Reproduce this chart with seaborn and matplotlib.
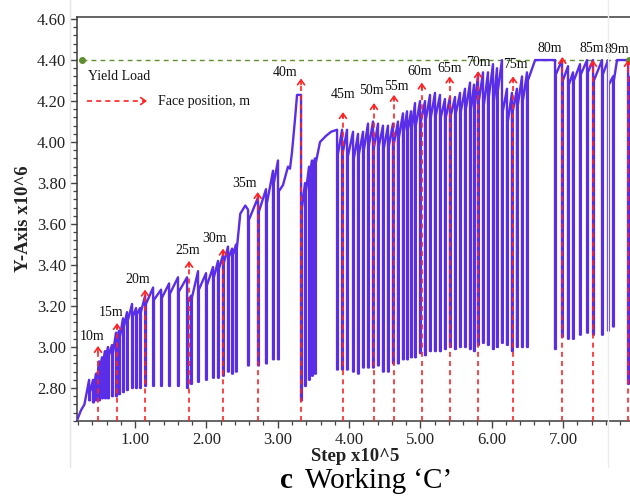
import numpy as np
import pandas as pd
import matplotlib
matplotlib.use("Agg")
import matplotlib.pyplot as plt
from matplotlib.lines import Line2D
from matplotlib.ticker import MultipleLocator, FormatStrFormatter
import seaborn as sns

# ---- load trace: one entry per loading cycle -------------------------------
# step (x10^5), load reached before the drop, trough of the drop, load the
# trace recovers to after the drop (None = plain vertex, no drop)
cycle_step = [0.190, 0.240, 0.290, 0.356, 0.411, 0.453, 0.495, 0.537, 0.579, 0.621,
              0.677, 0.733, 0.775, 0.831, 0.887, 0.958, 1.014, 1.070, 1.141, 1.253,
              1.365, 1.477, 1.602, 1.729, 1.785, 1.883, 1.995, 2.093, 2.163, 2.233,
              2.303, 2.360, 2.415, 2.475, 2.545, 2.584, 2.724, 2.836, 2.934, 3.004,
              3.074, 3.144, 3.172, 3.200, 3.242, 3.271, 3.327, 3.383, 3.439, 3.481,
              3.523, 3.593, 3.677, 3.748, 3.832, 3.902, 3.972, 4.056, 4.126, 4.196,
              4.266, 4.336, 4.406, 4.476, 4.546, 4.616, 4.686, 4.756, 4.813, 4.869,
              4.925, 4.995, 5.065, 5.135, 5.205, 5.275, 5.345, 5.415, 5.486, 5.556,
              5.626, 5.696, 5.752, 5.808, 5.878, 5.948, 6.018, 6.074, 6.144, 6.214,
              6.284, 6.354, 6.425, 6.495, 6.609, 6.888, 6.986, 7.070, 7.140, 7.238,
              7.337, 7.421, 7.547, 7.631, 7.701, 7.757, 7.912, 8.050]
cycle_peak = [2.645, 2.690, 2.720, 2.840, 2.840, 2.870, 2.930, 2.950, 2.980, 3.000,
              3.010, 3.070, 3.080, 3.140, 3.170, 3.210, 3.190, 3.190, 3.250, 3.290,
              3.280, 3.310, 3.340, 3.340, 3.250, 3.370, 3.360, 3.390, 3.420, 3.450,
              3.490, 3.480, 3.500, 3.650, 3.690, 3.670, 3.730, 3.770, 3.860, 3.910,
              3.790, 3.880, 3.870, 3.950, 4.110, 4.230, 4.230, 3.800, 3.880, 3.910,
              3.920, 4.000, 4.030, 4.050, 4.060, 4.060, 4.060, 4.050, 4.040, 4.050,
              4.090, 4.100, 4.090, 4.080, 4.080, 4.090, 4.100, 4.140, 4.150, 4.150,
              4.190, 4.200, 4.200, 4.230, 4.240, 4.230, 4.210, 4.220, 4.220, 4.240,
              4.260, 4.290, 4.280, 4.330, 4.340, 4.340, 4.380, 4.360, 4.400, 4.260,
              4.240, 4.260, 4.320, 4.340, 4.400, 4.400, 4.400, 4.370, 4.340, 4.380,
              4.400, 4.400, 4.400, 4.400, 4.320, 4.400, 4.400, 4.400]
cycle_trough = [None, None, None, 2.74, 2.73, 2.74, 2.74, 2.75, 2.75, 2.75,
                2.76, 2.76, 2.77, 2.78, 2.79, 2.80, 2.80, 2.80, 2.81, 2.81,
                2.81, 2.81, 2.81, 2.80, 2.82, 2.83, 2.84, 2.85, 2.85, 2.86,
                2.88, 2.87, 2.88, None, None, 2.91, 2.91, 2.92, 2.94, 2.94,
                None, None, None, None, None, None, 2.74, 2.81, 2.84, 2.86,
                2.87, None, None, None, 2.89, 2.89, 2.89, 2.88, 2.87, 2.90,
                2.90, 2.90, 2.91, 2.88, 2.88, 2.92, 2.92, 2.94, 2.94, 2.95,
                2.95, 2.97, 2.96, 2.98, 2.98, 2.98, 2.99, 3.00, 2.99, 3.00,
                3.00, 2.99, 2.98, 3.01, 3.02, 3.01, 2.99, 3.00, 3.02, 3.01,
                2.98, 3.00, 3.00, 3.00, None, 2.99, 3.05, 3.04, 3.04, 3.06,
                3.07, 3.06, 3.06, 3.08, 3.10, None, 2.82, None]
cycle_restart = [None, None, None, 2.78, 2.80, 2.83, 2.88, 2.91, 2.94, 2.96,
                 2.97, 3.02, 3.05, 3.10, 3.13, 3.15, 3.16, 3.17, 3.21, 3.23,
                 3.24, 3.26, 3.27, 3.22, 3.24, 3.28, 3.30, 3.34, 3.38, 3.41,
                 3.44, 3.45, 3.48, None, None, 3.62, 3.66, 3.70, 3.80, 3.76,
                 None, None, None, None, None, None, 3.68, 3.76, 3.84, 3.87,
                 3.90, None, None, None, 3.94, 3.95, 3.93, 3.92, 3.94, 3.96,
                 3.98, 3.97, 3.98, 3.97, 3.98, 3.99, 4.02, 4.05, 4.06, 4.07,
                 4.08, 4.10, 4.11, 4.12, 4.13, 4.12, 4.12, 4.13, 4.14, 4.15,
                 4.16, 4.16, 4.18, 4.20, 4.18, 4.22, 4.20, 4.25, 4.15, 4.10,
                 4.15, 4.18, 4.20, 4.30, None, 4.33, 4.30, 4.28, 4.30, 4.33,
                 4.34, 4.30, 4.33, 4.28, 4.30, None, 4.30, None]

# ---- face positions ---------------------------------------------------------
face_labels = ["10m", "15m", "20m", "25m", "30m", "35m", "40m", "45m", "50m",
               "55m", "60m", "65m", "70m", "75m", "80m", "85m", "89m"]
face_step = [0.48, 0.747, 1.14, 1.757, 2.233, 2.72, 3.327, 3.915, 4.35,
             4.63, 5.02, 5.41, 5.81, 6.30, 6.99, 7.42, 7.91]
face_top = [3.005, 3.117, 3.28, 3.42, 3.48, 3.756, 4.31, 4.146, 4.19,
            4.23, 4.29, 4.32, 4.346, 4.32, 4.415, 4.40, 4.40]
label_step = [0.40, 0.663, 1.04, 1.74, 2.12, 2.54, 3.10, 3.915, 4.32,
              4.67, 4.995, 5.41, 5.81, 6.33, 6.82, 7.40, 7.75]
label_load = [3.05, 3.17, 3.33, 3.47, 3.53, 3.80, 4.34, 4.234, 4.25,
              4.27, 4.346, 4.36, 4.39, 4.376, 4.454, 4.454, 4.45]

yield_load = 4.40

# ---- build the trace vertices ----------------------------------------------
gap = 0.012
xs, ys = [], []
for s, p, t, r in zip(cycle_step, cycle_peak, cycle_trough, cycle_restart):
    xs.append(s); ys.append(p)
    if t is not None:
        xs += [s, s + gap, s + gap]
        ys += [t, t, r]
trace = pd.DataFrame({"step": xs, "load": ys})

sns.set_theme(style="ticks")
plt.rcParams["font.family"] = ["Liberation Serif", "DejaVu Serif"]
plt.rcParams["axes.linewidth"] = 1.1

fig = plt.figure(figsize=(6.3, 4.99), dpi=100)
fig.patch.set_facecolor("white")

# faint frame of the pasted panel
fig.add_artist(Line2D([70 / 630, 70 / 630], [1.0, 1 - 467 / 499], color="#e4e4e4", lw=1))
fig.add_artist(Line2D([608 / 630, 608 / 630], [1.0, 1 - 467 / 499], color="#ececec", lw=1))

ax = fig.add_axes([77 / 630, 78 / 499, 557 / 630, 404 / 499])
ax.set_facecolor("white")
xmin, xmax = 0.186, 7.995
ymin, ymax = 2.639, 4.61
ax.set_xlim(xmin, xmax)
ax.set_ylim(ymin, ymax)

green = "#5e8f2e"
red = "#ff2323"
blue = "#5a2de6"

# yield load line
ax.plot([0.257, xmax + 0.5], [yield_load, yield_load], color=green, lw=1.0,
        ls=(0, (3.5, 3)), zorder=2, clip_on=False)
ax.plot([0.257, 7.93], [yield_load, yield_load], ls="none", marker="o", ms=4,
        color=green, zorder=4, clip_on=False)

sns.lineplot(data=trace, x="step", y="load", sort=False, estimator=None,
             color=blue, lw=1.7, ax=ax, zorder=3)

# face position arrows
arrow_kw = dict(arrowstyle="->,head_length=0.35,head_width=0.25", color=red,
                lw=1.2, shrinkA=0, shrinkB=0, mutation_scale=10)
for lab, s, top, ls_, ll in zip(face_labels, face_step, face_top, label_step, label_load):
    ax.plot([s, s], [ymin, top - 0.01], color=red, lw=1.2, ls=(0, (3, 2.5)),
            zorder=5, clip_on=False)
    ax.annotate("", xy=(s, top), xytext=(s, top - 0.03), arrowprops=arrow_kw,
                zorder=6, annotation_clip=False)
    ax.text(ls_, ll, lab, ha="center", va="center", fontsize=10, color="#111",
            zorder=7, clip_on=False)

# in-plot key
ax.text(0.34, 4.322, "Yield Load", ha="left", va="center", fontsize=10, color="#111")
ax.plot([0.327, 1.15], [4.20, 4.20], color=red, lw=1.2, ls=(0, (3, 2.5)), zorder=5)
ax.annotate("", xy=(1.167, 4.20), xytext=(1.12, 4.20), arrowprops=arrow_kw, zorder=6)
ax.text(1.323, 4.20, "Face position, m", ha="left", va="center", fontsize=10, color="#111")

# axes styling
ax.xaxis.set_major_locator(MultipleLocator(1.0))
ax.xaxis.set_minor_locator(MultipleLocator(0.2))
ax.yaxis.set_major_locator(MultipleLocator(0.2))
ax.yaxis.set_minor_locator(MultipleLocator(0.04))
ax.xaxis.set_major_formatter(FormatStrFormatter("%.2f"))
ax.yaxis.set_major_formatter(FormatStrFormatter("%.2f"))
ax.tick_params(which="major", direction="out", length=5, width=1.0, color="#444",
               labelsize=12, labelcolor="#222", pad=3)
ax.tick_params(which="minor", direction="out", length=3, width=0.9, color="#444")
for side in ("left", "bottom", "top"):
    ax.spines[side].set_color("#3a3a3a")
ax.spines["right"].set_visible(False)

ax.set_xlabel("Step x10^5", fontsize=13.5, fontweight="bold", color="#222")
ax.set_ylabel("Y-Axis x10^6", fontsize=13.5, fontweight="bold", color="#222")
ax.xaxis.set_label_coords(0.499, -0.067)
ax.yaxis.set_label_coords(-0.081, 0.5)

fig.text(280 / 630, 1 - 488 / 499, "c", fontsize=21, fontweight="bold",
         ha="left", va="baseline", color="black")
fig.text(305 / 630, 1 - 488 / 499, "Working \u2018C\u2019", fontsize=21,
         ha="left", va="baseline", color="black")

fig.savefig("out.png", dpi=100, facecolor="white")
